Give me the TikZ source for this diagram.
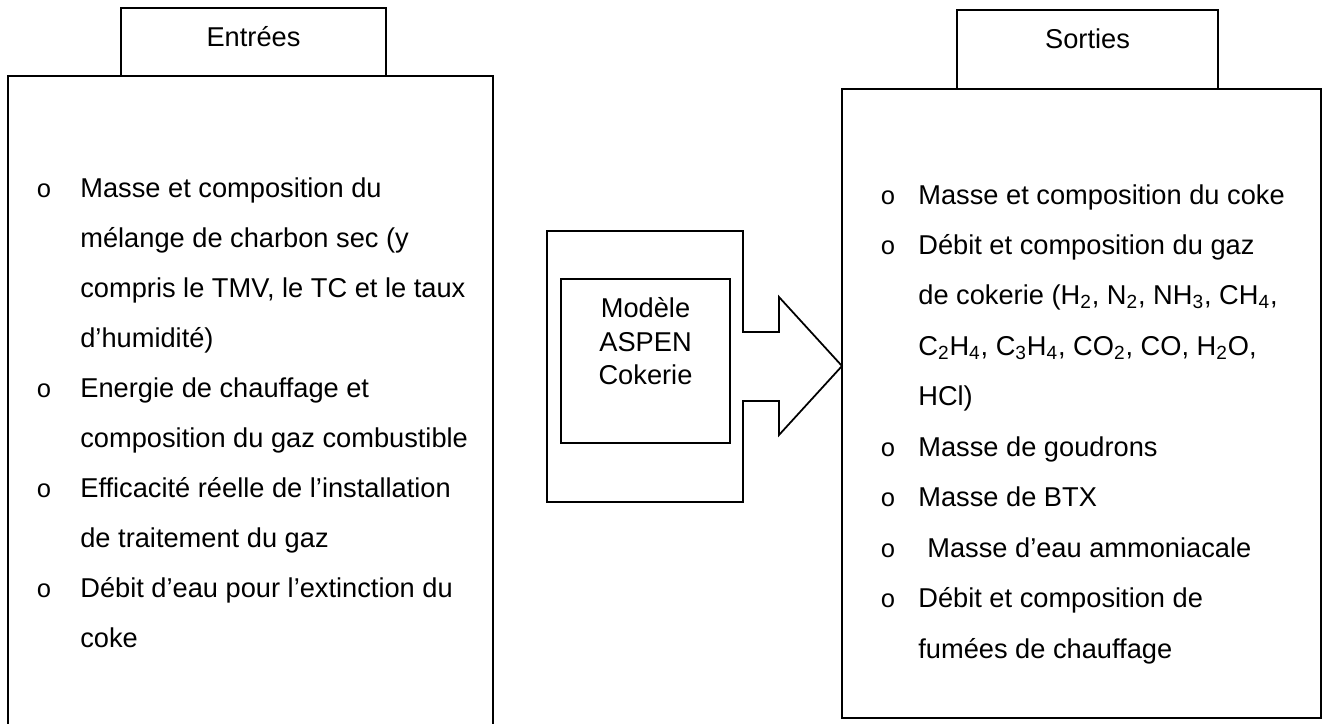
\documentclass[tikz,border=0pt]{standalone}
\usepackage{fontspec}
\setmainfont{Liberation Sans}
\newfontfamily\pucefont{Liberation Mono}
\usepackage{tikz}

\tikzset{
    cadre/.style={draw=black, line width=1pt},
    entry/.style={anchor=base west, inner sep=0pt, font=\fontsize{15.5}{18}\selectfont},
    titre/.style={anchor=base, inner sep=0pt, font=\fontsize{15.5}{18}\selectfont},
    puce/.style={anchor=base, inner sep=0pt, font=\pucefont\fontsize{14.5}{14.5}\selectfont}
}

\begin{document}
\begin{tikzpicture}[x=0.2mm, y=-0.2mm]

    \useasboundingbox (0,0) rectangle (1342,724);

    % --- ENTREES ---
    \draw[cadre] (8,724) -- (8,76) -- (493,76) -- (493,724);
    \draw[cadre] (121,8) rectangle (386,76);
    \node[titre] (entrees) at (253.5,46) {Entrées};

    \node[puce] (inB1) at (44,197) {o};
    \node[entry] (in1) at (80,197) {Masse et composition du};
    \node[entry] (in2) at (80,247) {mélange de charbon sec (y};
    \node[entry] (in3) at (80,297) {compris le TMV, le TC et le taux};
    \node[entry] (in4) at (80,347) {d’humidité)};
    \node[puce] (inB2) at (44,397) {o};
    \node[entry] (in5) at (80,397) {Energie de chauffage et};
    \node[entry] (in6) at (80,447) {composition du gaz combustible};
    \node[puce] (inB3) at (44,497) {o};
    \node[entry] (in7) at (80,497) {Efficacité réelle de l’installation};
    \node[entry] (in8) at (80,547) {de traitement du gaz};
    \node[puce] (inB4) at (44,597) {o};
    \node[entry] (in9) at (80,597) {Débit d’eau pour l’extinction du};
    \node[entry] (in10) at (80,647) {coke};

    % --- MODELE ---
    \draw[cadre] (547,231) -- (743,231) -- (743,332) -- (779,332) -- (779,297)
        -- (842,366) -- (779,435) -- (779,401) -- (743,401) -- (743,502)
        -- (547,502) -- cycle;
    \draw[cadre] (561,279) rectangle (730,443);
    \node[titre] (modA) at (645.5,317) {Modèle};
    \node[titre] (modB) at (645.5,351) {ASPEN};
    \node[titre] (modC) at (645.5,384) {Cokerie};

    % --- SORTIES ---
    \draw[cadre] (842,89) rectangle (1321,718);
    \draw[cadre, fill=white] (957,10) rectangle (1218,89);
    \node[titre] (sorties) at (1087.5,48) {Sorties};

    \node[puce] (outB1) at (888,204) {o};
    \node[entry] (out1) at (918,204) {Masse et composition du coke};
    \node[puce] (outB2) at (888,254) {o};
    \node[entry] (out2) at (918,254) {Débit et composition du gaz};
    \node[entry] (out3) at (918,304) {de cokerie (H\textsubscript{2}, N\textsubscript{2}, NH\textsubscript{3}, CH\textsubscript{4},};
    \node[entry] (out4) at (918,355) {C\textsubscript{2}H\textsubscript{4}, C\textsubscript{3}H\textsubscript{4}, CO\textsubscript{2}, CO, H\textsubscript{2}O,};
    \node[entry] (out5) at (918,405) {HCl)};
    \node[puce] (outB3) at (888,456) {o};
    \node[entry] (out6) at (918,456) {Masse de goudrons};
    \node[puce] (outB4) at (888,506) {o};
    \node[entry] (out7) at (918,506) {Masse de BTX};
    \node[puce] (outB5) at (888,557) {o};
    \node[entry] (out8) at (927,557) {Masse d’eau ammoniacale};
    \node[puce] (outB6) at (888,607) {o};
    \node[entry] (out9) at (918,607) {Débit et composition de};
    \node[entry] (out10) at (918,658) {fumées de chauffage};

\end{tikzpicture}
\end{document}
